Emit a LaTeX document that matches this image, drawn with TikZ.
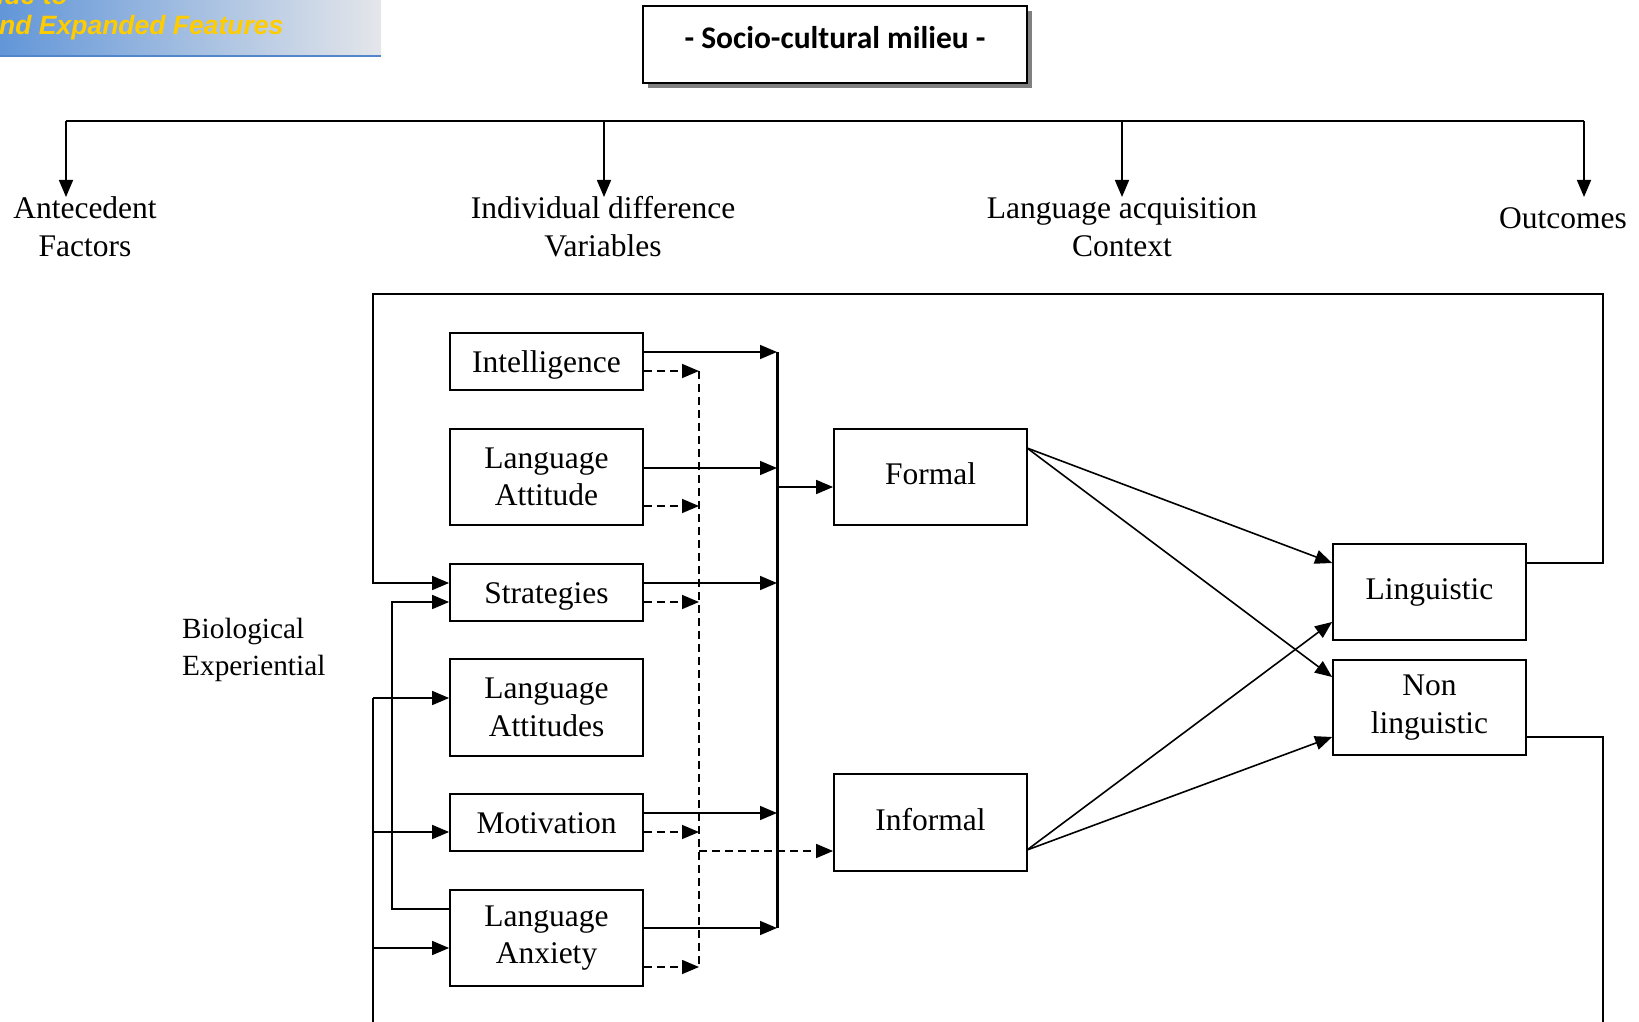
\documentclass[tikz,border=0pt]{standalone}
\usepackage{fontspec}
\setmainfont{Liberation Serif}
\newfontfamily\titlefont{Carlito}
\newfontfamily\bannerfont{Liberation Sans}
\usetikzlibrary{arrows.meta}
\definecolor{bannerblue}{RGB}{98,150,216}
\definecolor{bannergray}{RGB}{228,230,234}
\definecolor{bannerline}{RGB}{84,134,204}
\definecolor{bannertext}{RGB}{255,204,0}
\definecolor{shadowgray}{RGB}{128,128,128}
\begin{document}
\begin{tikzpicture}[x=1pt,y=-1pt,
  every node/.style={font=\fontsize{31.5}{37.5}\selectfont},
  box/.style={draw, line width=1.8pt, minimum width=193pt, align=center, inner sep=0pt},
  one/.style={text height=21.5pt, text depth=0pt},
  up/.style={text height=21.5pt, text depth=6pt},
  ln/.style={line width=1.6pt},
  arr/.style={ln, -{Triangle[length=17pt,width=14pt]}},
  darr/.style={arr, dash pattern=on 8pt off 5pt},
  dln/.style={ln, dash pattern=on 8pt off 5pt},
  lbl/.style={align=center, inner sep=0pt},
]
\useasboundingbox (0,0) rectangle (1639,1022);

% banner in the upper left corner
\shade[left color=bannerblue, right color=bannergray] (0,0) rectangle (381,56);
\draw[line width=2pt, bannerline] (0,56) -- (381,56);
\node[font=\bannerfont\bfseries\itshape\fontsize{26.5}{30}\selectfont, text=bannertext,
      anchor=base east, inner sep=0pt] (bantop) at (68,5) {ide to};
\node[font=\bannerfont\bfseries\itshape\fontsize{26.5}{30}\selectfont, text=bannertext,
      anchor=base west, inner sep=0pt] (banbot) at (-1,35) {nd Expanded Features};

% title box with drop shadow
\fill[shadowgray] (648,11) rectangle (1032,88);
\node[draw, fill=white, line width=1.8pt, minimum width=384pt, minimum height=77pt] (milieu) at (835,44.5) {};
\node[font=\titlefont\bfseries\fontsize{31.5}{37}\selectfont, anchor=base] (title) at (835,49) {- Socio-cultural milieu -};

% top distribution line
\coordinate (t1) at (66,121);
\coordinate (t2) at (604,121);
\coordinate (t3) at (1122,121);
\coordinate (t4) at (1584,121);
\coordinate (a1) at (66,197);
\coordinate (a2) at (604,197);
\coordinate (a3) at (1122,197);
\coordinate (a4) at (1584,197);
\draw[ln] (t1) -- (t4);
\draw[arr] (t1) -- (a1);
\draw[arr] (t2) -- (a2);
\draw[arr] (t3) -- (a3);
\draw[arr] (t4) -- (a4);

% headings (base anchor sits on the last line)
\node[lbl, anchor=base] (antec) at (85,256) {Antecedent\\Factors};
\node[lbl, anchor=base] (indiv) at (603,256) {Individual difference\\Variables};
\node[lbl, anchor=base] (acq) at (1122,256) {Language acquisition\\Context};
\node[lbl, anchor=base] (outc) at (1563,228) {Outcomes};
\node[lbl, align=left, anchor=base west, font=\fontsize{29.3}{36.5}\selectfont] (bio) at (182,675) {Biological\\Experiential};

% individual difference variables
\node[box, one, minimum height=57pt] (intel) at (546.5,361.5) {Intelligence};
\node[box, minimum height=96pt] (attA) at (546.5,477) {Language\\Attitude};
\node[box, one, minimum height=57pt] (strat) at (546.5,592.5) {Strategies};
\node[box, minimum height=97pt] (attB) at (546.5,707.5) {Language\\Attitudes};
\node[box, one, minimum height=57pt] (motiv) at (546.5,822.5) {Motivation};
\node[box, minimum height=96pt] (anx) at (546.5,938) {Language\\Anxiety};

% contexts
\node[box, up, minimum height=96pt] (formal) at (930.5,477) {Formal};
\node[box, up, minimum height=97pt] (informal) at (930.5,822.5) {Informal};

% outcomes
\node[box, up, minimum height=96pt] (ling) at (1429.5,592) {Linguistic};
\node[box, minimum height=95pt] (nonling) at (1429.5,707.5) {Non\\linguistic};

% collecting bar and dashed collector
\coordinate (b1) at (777,352);
\coordinate (b2) at (777,468);
\coordinate (b3) at (777,583);
\coordinate (b4) at (777,813);
\coordinate (b5) at (777,928);
\coordinate (d1) at (699,371);
\coordinate (d2) at (699,506);
\coordinate (d3) at (699,602);
\coordinate (d4) at (699,832);
\coordinate (d5) at (699,967);
\coordinate (bF) at (777,487);
\coordinate (dI) at (699,851);

\draw[arr] (intel.east |- b1) -- (b1);
\draw[arr] (attA.east |- b2) -- (b2);
\draw[arr] (strat.east |- b3) -- (b3);
\draw[arr] (motiv.east |- b4) -- (b4);
\draw[arr] (anx.east |- b5) -- (b5);
\draw[line width=3pt] (b1) -- (b5);
\draw[arr] (bF) -- (formal.west |- bF);

\draw[darr] (intel.east |- d1) -- (d1);
\draw[darr] (attA.east |- d2) -- (d2);
\draw[darr] (strat.east |- d3) -- (d3);
\draw[darr] (motiv.east |- d4) -- (d4);
\draw[darr] (anx.east |- d5) -- (d5);
\draw[dln] (d1) -- (d5);
\draw[darr] (dI) -- (informal.west |- dI);

% context to outcome links
\coordinate (fOut) at (1027,448);
\coordinate (iOut) at (1027,850);
\coordinate (yA) at (0,563);
\coordinate (yB) at (0,622);
\coordinate (yC) at (0,677);
\coordinate (yD) at (0,737);
\draw[arr] (fOut) -- (ling.west |- yA);
\draw[arr] (fOut) -- (nonling.west |- yC);
\draw[arr] (iOut) -- (ling.west |- yB);
\draw[arr] (iOut) -- (nonling.west |- yD);

% feedback loops
\coordinate (fb1) at (1603,563);
\coordinate (fb2) at (1603,294);
\coordinate (fb3) at (373,294);
\coordinate (fb4) at (373,583);
\draw[arr] (ling.east |- yA) -- (fb1) -- (fb2) -- (fb3) -- (fb4) -- (strat.west |- fb4);

\coordinate (nb1) at (1603,737);
\coordinate (nb2) at (1603,1030);
\draw[ln] (nonling.east |- yD) -- (nb1) -- (nb2);

\coordinate (lv1) at (373,698);
\coordinate (lv2) at (373,832);
\coordinate (lv3) at (373,948);
\coordinate (lvB) at (373,1030);
\draw[ln] (lvB) -- (lv1);
\draw[arr] (lv1) -- (attB.west |- lv1);
\draw[arr] (lv2) -- (motiv.west |- lv2);
\draw[arr] (lv3) -- (anx.west |- lv3);

\coordinate (in1) at (392,909);
\coordinate (in2) at (392,602);
\draw[arr] (anx.west |- in1) -- (in1) -- (in2) -- (strat.west |- in2);
\end{tikzpicture}
\end{document}
